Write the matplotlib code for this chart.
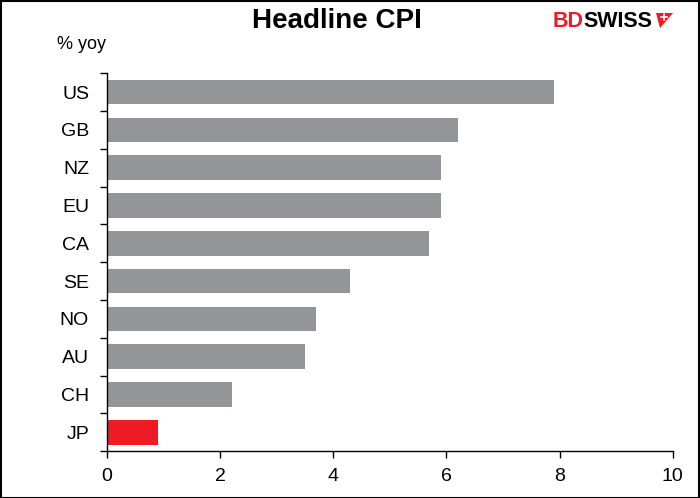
import numpy as np
import matplotlib.pyplot as plt
from matplotlib.patches import Polygon, Rectangle

# data
countries = ["US", "GB", "NZ", "EU", "CA", "SE", "NO", "AU", "CH", "JP"]
cpi = [7.9, 6.2, 5.9, 5.9, 5.7, 4.3, 3.7, 3.5, 2.2, 0.9]
highlight = "JP"

grey = "#939598"
red = "#ED1C24"

plt.rcParams['font.family'] = ['Liberation Sans', 'DejaVu Sans']

fig = plt.figure(figsize=(7, 4.98), dpi=100)
ax = fig.add_axes([0.153, 0.094, 0.808, 0.759])

y = np.arange(len(countries))
colors = [red if c == highlight else grey for c in countries]
ax.barh(y, cpi, height=0.65, color=colors)

ax.set_ylim(len(countries) - 0.5, -0.5)
ax.set_xlim(0, 10)
ax.set_xticks([0, 2, 4, 6, 8, 10])
ax.tick_params(axis='x', labelsize=14, length=5, width=1, direction='out', pad=7)

# category labels at bar centres, ticks at the boundaries
ax.set_yticks(y)
ax.set_yticklabels(countries, fontsize=14)
ax.tick_params(axis='y', which='major', length=0, pad=13)
ax.set_yticks(np.arange(len(countries) + 1) - 0.5, minor=True)
ax.tick_params(axis='y', which='minor', length=5, width=1, direction='out')

for s in ['top', 'right']:
    ax.spines[s].set_visible(False)
for s in ['left', 'bottom']:
    ax.spines[s].set_linewidth(1)

fig.text(0.481, 0.957, "Headline CPI", ha='center', va='center',
         fontsize=20, fontweight='bold')
fig.text(0.082, 0.91, "% yoy", ha='left', va='center', fontsize=13)

# logo
fig.text(0.79, 0.957, "BD", color=red, fontsize=15.5, fontweight='bold',
         ha='left', va='center')
fig.text(0.834, 0.957, "SWISS", color='black', fontsize=15.5, fontweight='bold',
         ha='left', va='center')
px = lambda x, yy: [x / 700, 1 - yy / 498]
fig.patches.append(Polygon([px(656, 13), px(673, 13), px(660, 28)],
                           closed=True, transform=fig.transFigure,
                           facecolor=red, edgecolor='none'))
fig.lines.append(plt.Line2D([661 / 700, 667 / 700], [1 - 17 / 498, 1 - 17 / 498],
                            transform=fig.transFigure, color='white', lw=1.2))
fig.lines.append(plt.Line2D([664 / 700, 664 / 700], [1 - 14 / 498, 1 - 20 / 498],
                            transform=fig.transFigure, color='white', lw=1.2))

# outer border
fig.patches.append(Rectangle((0.001, 0.001), 0.998, 0.997, transform=fig.transFigure,
                             fill=False, edgecolor='black', linewidth=1.5))

fig.savefig("out.png", dpi=100)
